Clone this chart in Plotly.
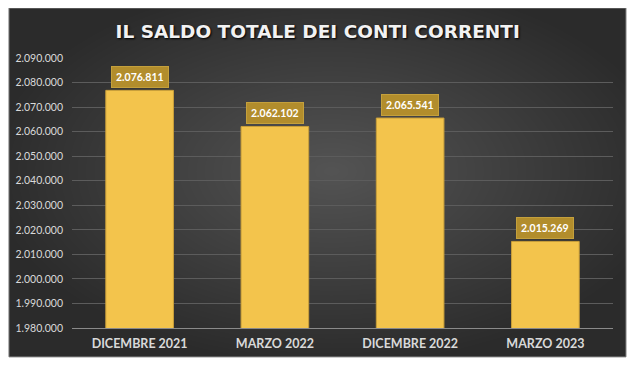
import plotly.graph_objects as go

categories = ["DICEMBRE 2021", "MARZO 2022", "DICEMBRE 2022", "MARZO 2023"]
values = [2076811, 2062102, 2065541, 2015269]
value_labels = ["2.076.811", "2.062.102", "2.065.541", "2.015.269"]
tick_vals = list(range(1980000, 2090001, 10000))

fig = go.Figure()
fig.add_trace(go.Bar(
    x=categories, y=values, width=0.5,
    marker=dict(color="#f3c44c", line=dict(color="#c99f3a", width=1)),
    hoverinfo="skip",
))

shapes = []
# panel background
x0, x1, y0, y1 = -0.1165, 1.024, -0.107, 1.185
shapes.append(dict(type="rect", xref="paper", yref="paper", x0=x0, x1=x1, y0=y0, y1=y1,
                   fillcolor="#2b2b2b", line=dict(color="#7a7a7a", width=1), layer="below"))
cx, cy = 0.48, 0.58
n = 40
for i in range(n):
    f = 1 - i / n
    hw = (x1 - x0) / 2 * f * 1.1
    hh = (y1 - y0) / 2 * f * 1.1
    shapes.append(dict(type="circle", xref="paper", yref="paper",
                       x0=cx - hw, x1=cx + hw, y0=cy - hh, y1=cy + hh,
                       fillcolor="rgba(255,255,255,0.0075)", line=dict(width=0), layer="below"))

annotations = []
for c, v, t in zip(categories, values, value_labels):
    annotations.append(dict(x=c, y=v, xref="x", yref="y", text="<b>" + t + "</b>",
                            showarrow=False, yshift=13, bgcolor="#b28d2c",
                            bordercolor="#c4a03c", borderwidth=1, borderpad=4,
                            font=dict(family="Lato", size=10.5, color="white")))

fig.update_layout(
    width=632, height=358,
    margin=dict(l=64, r=27, t=50, b=38, autoexpand=False),
    paper_bgcolor="white", plot_bgcolor="rgba(0,0,0,0)",
    separators=",.",
    showlegend=False,
    shapes=shapes,
    annotations=annotations,
    title=dict(text="IL SALDO TOTALE DEI CONTI CORRENTI", x=0.49, xanchor="center",
               y=0.934, yanchor="middle",
               font=dict(family="DejaVu Sans", size=18.5, color="#f2f2f2", weight="bold",
                         shadow="1px 1px 2px #000")),
    xaxis=dict(showgrid=False, showline=True, linecolor="#8a8a8a", linewidth=1,
               tickfont=dict(family="Lato", size=12.5, color="#d9d9d9", weight="bold"),
               ticks="", ticklabelstandoff=4, fixedrange=True, automargin=False),
    yaxis=dict(range=[1980000, 2090000], tickvals=tick_vals, tickformat=",d",
               showgrid=True, gridcolor="#5c5c5c", gridwidth=1, zeroline=False,
               tickfont=dict(family="Lato", size=10.5, color="#d9d9d9"),
               ticks="", ticklabelstandoff=8, automargin=False),
)

fig.write_html("out.html")
